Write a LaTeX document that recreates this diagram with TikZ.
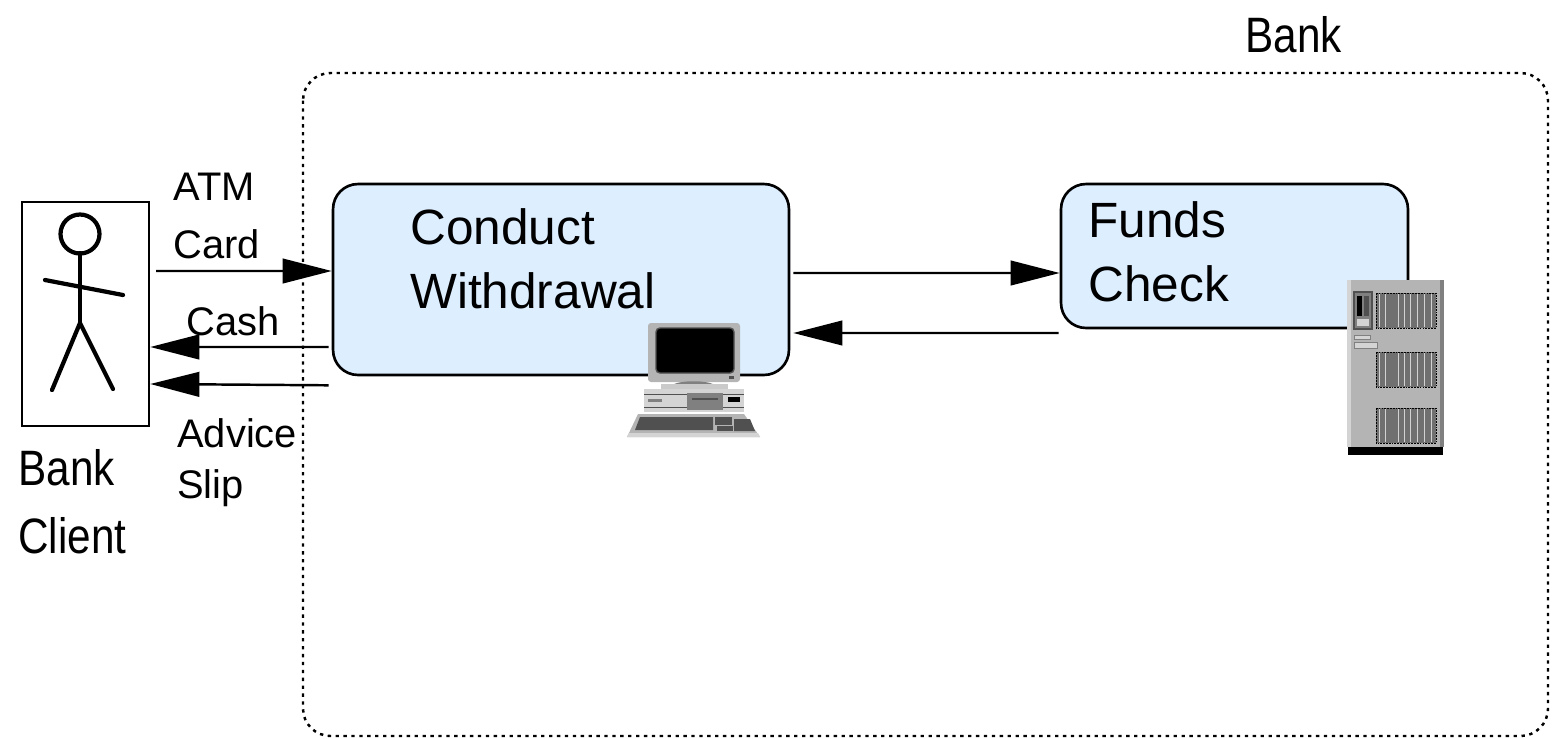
\documentclass[tikz,border=0pt]{standalone}
\usepackage{fontspec}
\setmainfont{Liberation Sans}
\newfontfamily\narrowsans{Liberation Sans}[FakeStretch=0.85]
\usetikzlibrary{arrows.meta}

\definecolor{procblue}{RGB}{221,238,255}
\definecolor{iconpale}{RGB}{212,212,212}
\definecolor{icongray}{RGB}{180,180,180}
\definecolor{iconmid}{RGB}{128,128,128}
\definecolor{icondark}{RGB}{80,80,80}
\definecolor{iconvent}{RGB}{112,112,112}

\begin{document}
\begin{tikzpicture}[x=0.02cm, y=-0.02cm, every node/.style={inner sep=0pt},
	proc/.style={draw, line width=1.5pt, fill=procblue, rounded corners=0.5cm},
	flow/.style={line width=1.4pt, -{Triangle[length=28pt, width=14pt]}},
	title/.style={anchor=base west, align=left, font=\fontsize{28.2}{36.3}\selectfont},
	msg/.style={anchor=base west, align=left, font=\fontsize{22.7}{32.9}\selectfont},
	tag/.style={anchor=base west, align=left, font=\narrowsans\fontsize{28.3}{38.5}\selectfont}]
	\useasboundingbox (0,0) rectangle (1552,738);

	% bank boundary
	\draw[line width=1.4pt, dash pattern=on 1.9pt off 2.6pt, rounded corners=0.55cm] (303,73) rectangle (1548,736);
	\node[tag] (banklabel) at (1245,52) {Bank};

	% client with stick figure (multi-line nodes sit on their last baseline)
	\node[draw, line width=1.4pt, minimum width=2.54cm, minimum height=4.48cm] (client) at (85.5,314) {};
	\begin{scope}[line width=2.4pt, line cap=round]
		\draw (80,234) circle[radius=0.39cm];
		\draw (80,253) -- (80,323);
		\draw (45,280) -- (123,295);
		\draw (52,390) -- (80,323) -- (113,389);
	\end{scope}
	\node[tag] (clientlabel) at (18,553) {Bank\\Client};

	% processes
	\node[proc, minimum width=9.12cm, minimum height=3.82cm] (withdraw) at (561,279.5) {};
	\node[title] (withdrawtext) at (410,308) {Conduct\\Withdrawal};
	\node[proc, minimum width=6.94cm, minimum height=2.88cm] (funds) at (1234.5,256) {};
	\node[title] (fundstext) at (1088,301) {Funds\\Check};

	% flows
	\draw[flow] ([xshift=0.12cm, yshift=0.86cm]client.east) -- ([yshift=0.17cm]withdraw.west);
	\draw[flow] ([xshift=-0.06cm, yshift=-1.35cm]withdraw.west) -- ([yshift=-0.66cm]client.east);
	\draw[flow] ([xshift=-0.06cm, yshift=-0.18cm]withdraw.south west) -- ([yshift=-1.4cm]client.east);
	\draw[flow] ([xshift=0.06cm, yshift=0.13cm]withdraw.east) -- ([yshift=-0.34cm]funds.west);
	\draw[flow] ([xshift=-0.02cm, yshift=-1.54cm]funds.west) -- ([xshift=0.06cm, yshift=-1.07cm]withdraw.east);
	\node[msg] (cardlabel) at (173,258) {ATM\\Card};
	\node[msg] (cashlabel) at (186,335) {Cash};
	\node[msg, font=\fontsize{22.7}{28.9}\selectfont] (sliplabel) at (177,498) {Advice\\Slip};

	% desktop computer
	\fill[icongray, rounded corners=0.06cm] (648,323) rectangle (740,382);
	\filldraw[fill=black, draw=icondark, line width=0.8pt, rounded corners=0.08cm] (656,328) rectangle (734,373);
	\fill[icondark] (729,376) rectangle (734,379);
	\fill[iconmid] (672,385) .. controls (680,380) and (707,380) .. (715,385) -- cycle;
	\fill[icongray!70] (661,384) rectangle (728,389);
	\fill[iconpale] (644,389) rectangle (744,412);
	\fill[icondark] (644,393.5) rectangle (744,395);
	\fill[icondark] (644,406.5) rectangle (744,408);
	\fill[iconmid] (687,393) rectangle (723,410);
	\fill[icondark] (692,398) rectangle (718,400);
	\fill[iconmid] (648,399) rectangle (662,402);
	\fill[black] (728,397) rectangle (740,402);
	\fill[icongray] (638,414) -- (744,414) -- (760,437) -- (627,437) -- cycle;
	\fill[iconpale] (629,433) -- (758,433) -- (760,437) -- (627,437) -- cycle;
	\fill[icondark] (640,417) -- (713,417) -- (713,430) -- (635,430) -- cycle;
	\fill[icondark] (715,417) rectangle (732,425);
	\fill[icondark] (717,426) rectangle (733,431);
	\fill[icondark] (734,419) -- (750,419) -- (755,431) -- (734,431) -- cycle;

	% server cabinet
	\fill[icongray] (1347,280) rectangle (1444,447);
	\fill[iconpale] (1347,280) rectangle (1351,447);
	\fill[iconmid] (1440,280) rectangle (1444,447);
	\fill[black] (1348,447) rectangle (1443,455);
	\filldraw[fill=iconmid, draw=icondark, line width=0.6pt] (1354,292) rectangle (1372,329);
	\fill[black] (1357,296) rectangle (1362,316);
	\fill[icondark] (1364,296) rectangle (1369,316);
	\fill[iconpale] (1357,319) rectangle (1369,326);
	\filldraw[fill=iconpale, draw=iconmid, line width=0.5pt] (1354,335) rectangle (1370,339);
	\filldraw[fill=iconpale, draw=iconmid, line width=0.5pt] (1354,342) rectangle (1377,348);
	\foreach \g in {293,352,408} {
		\filldraw[fill=iconvent, draw=black, line width=0.4pt, dash pattern=on 1pt off 0.6pt] (1376,\g) rectangle (1436,\g+35);
		\foreach \v in {1379,1385,1398,1404,1410,1417,1424,1431}
			\draw[icongray!60, line width=0.5pt] (\v,\g+1) -- (\v,\g+34);
	}
\end{tikzpicture}
\end{document}
